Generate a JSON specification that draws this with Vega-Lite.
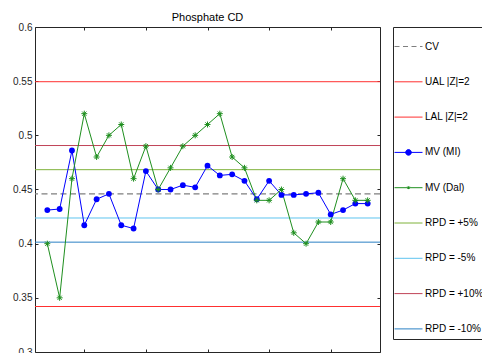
{
  "$schema": "https://vega.github.io/schema/vega-lite/v6.json",
  "autosize": {"type": "none"},
  "padding": {"left": 35, "top": 27, "right": 102, "bottom": 1},
  "width": 345,
  "height": 325,
  "background": "white",
  "title": {"text": "Phosphate CD", "fontSize": 11, "fontWeight": "normal", "font": "Liberation Sans", "color": "#000", "offset": -1, "frame": "group", "anchor": "middle"},
  "config": {
    "view": {"stroke": "#262626", "strokeWidth": 1},
    "axis": {"grid": false, "domain": false, "labelFont": "Liberation Sans", "labelFontSize": 10, "labelColor": "#262626", "tickColor": "#262626", "tickSize": -3, "labelPadding": 6, "title": null},
    "legend": {"labelFont": "Liberation Sans", "labelFontSize": 10, "labelColor": "#000"}
  },
  "datasets": {
    "mv": [
      {"x": 1, "s": "MV (MI)", "v": 0.431}, {"x": 2, "s": "MV (MI)", "v": 0.432}, {"x": 3, "s": "MV (MI)", "v": 0.486},
      {"x": 4, "s": "MV (MI)", "v": 0.417}, {"x": 5, "s": "MV (MI)", "v": 0.441}, {"x": 6, "s": "MV (MI)", "v": 0.446},
      {"x": 7, "s": "MV (MI)", "v": 0.417}, {"x": 8, "s": "MV (MI)", "v": 0.414}, {"x": 9, "s": "MV (MI)", "v": 0.467},
      {"x": 10, "s": "MV (MI)", "v": 0.450}, {"x": 11, "s": "MV (MI)", "v": 0.450}, {"x": 12, "s": "MV (MI)", "v": 0.454},
      {"x": 13, "s": "MV (MI)", "v": 0.452}, {"x": 14, "s": "MV (MI)", "v": 0.472}, {"x": 15, "s": "MV (MI)", "v": 0.463},
      {"x": 16, "s": "MV (MI)", "v": 0.464}, {"x": 17, "s": "MV (MI)", "v": 0.458}, {"x": 18, "s": "MV (MI)", "v": 0.441},
      {"x": 19, "s": "MV (MI)", "v": 0.458}, {"x": 20, "s": "MV (MI)", "v": 0.445}, {"x": 21, "s": "MV (MI)", "v": 0.445},
      {"x": 22, "s": "MV (MI)", "v": 0.446}, {"x": 23, "s": "MV (MI)", "v": 0.447}, {"x": 24, "s": "MV (MI)", "v": 0.427},
      {"x": 25, "s": "MV (MI)", "v": 0.431}, {"x": 26, "s": "MV (MI)", "v": 0.437}, {"x": 27, "s": "MV (MI)", "v": 0.437},
      {"x": 1, "s": "MV (Dal)", "v": 0.40}, {"x": 2, "s": "MV (Dal)", "v": 0.35}, {"x": 3, "s": "MV (Dal)", "v": 0.46},
      {"x": 4, "s": "MV (Dal)", "v": 0.52}, {"x": 5, "s": "MV (Dal)", "v": 0.48}, {"x": 6, "s": "MV (Dal)", "v": 0.50},
      {"x": 7, "s": "MV (Dal)", "v": 0.51}, {"x": 8, "s": "MV (Dal)", "v": 0.46}, {"x": 9, "s": "MV (Dal)", "v": 0.49},
      {"x": 10, "s": "MV (Dal)", "v": 0.45}, {"x": 11, "s": "MV (Dal)", "v": 0.47}, {"x": 12, "s": "MV (Dal)", "v": 0.49},
      {"x": 13, "s": "MV (Dal)", "v": 0.50}, {"x": 14, "s": "MV (Dal)", "v": 0.51}, {"x": 15, "s": "MV (Dal)", "v": 0.52},
      {"x": 16, "s": "MV (Dal)", "v": 0.48}, {"x": 17, "s": "MV (Dal)", "v": 0.47}, {"x": 18, "s": "MV (Dal)", "v": 0.44},
      {"x": 19, "s": "MV (Dal)", "v": 0.44}, {"x": 20, "s": "MV (Dal)", "v": 0.45}, {"x": 21, "s": "MV (Dal)", "v": 0.41},
      {"x": 22, "s": "MV (Dal)", "v": 0.40}, {"x": 23, "s": "MV (Dal)", "v": 0.42}, {"x": 24, "s": "MV (Dal)", "v": 0.42},
      {"x": 25, "s": "MV (Dal)", "v": 0.46}, {"x": 26, "s": "MV (Dal)", "v": 0.44}, {"x": 27, "s": "MV (Dal)", "v": 0.44}
    ],
    "refs": [
      {"s": "CV", "v": 0.446},
      {"s": "UAL |Z|=2", "v": 0.5495},
      {"s": "LAL |Z|=2", "v": 0.342},
      {"s": "RPD = +5%", "v": 0.4683},
      {"s": "RPD = -5%", "v": 0.4237},
      {"s": "RPD = +10%", "v": 0.4906},
      {"s": "RPD = -10%", "v": 0.4014}
    ]
  },
  "layer": [
    {
      "data": {"name": "refs"},
      "transform": [{"filter": "datum.s !== 'CV'"}],
      "mark": {"type": "rule", "strokeWidth": 1},
      "encoding": {
        "y": {"field": "v", "type": "quantitative", "axis": null},
        "color": {"field": "s", "type": "nominal"}
      }
    },
    {
      "data": {"name": "refs"},
      "transform": [{"filter": "datum.s === 'CV'"}],
      "mark": {"type": "rule", "strokeWidth": 1.3, "strokeDash": [6, 3.5]},
      "encoding": {
        "y": {"field": "v", "type": "quantitative", "axis": null},
        "color": {"field": "s", "type": "nominal"}
      }
    },
    {
      "data": {"name": "mv"},
      "mark": {"type": "line", "strokeWidth": 1},
      "encoding": {
        "x": {"field": "x", "type": "quantitative", "scale": {"domain": [0, 28], "nice": false, "zero": false}, "axis": {"orient": "bottom", "values": [4, 9, 14, 19, 24], "labels": false}},
        "y": {"field": "v", "type": "quantitative", "scale": {"domain": [0.3, 0.6], "nice": false, "zero": false}, "axis": {"orient": "left", "values": [0.3, 0.35, 0.4, 0.45, 0.5, 0.55, 0.6], "format": ".2~f"}},
        "color": {
          "field": "s", "type": "nominal",
          "scale": {
            "domain": ["CV", "UAL |Z|=2", "LAL |Z|=2", "MV (MI)", "MV (Dal)", "RPD = +5%", "RPD = -5%", "RPD = +10%", "RPD = -10%"],
            "range": ["#7f7f7f", "#ff3030", "#ff3030", "#0000ff", "#1f8f1f", "#7fb23a", "#5ec4ef", "#c04458", "#2a80c4"]
          },
          "legend": {
            "title": null,
            "orient": "right",
            "offset": 12,
            "padding": 5,
            "strokeColor": "#262626",
            "fillColor": "white",
            "symbolType": "stroke",
            "symbolSize": 784,
            "symbolStrokeWidth": 1,
            "symbolOffset": -4,
            "rowPadding": 15.3,
            "labelOffset": 2,
            "labelFontSize": 10,
            "labelLimit": 200,
            "encode": {
              "symbols": {
                "update": {
                  "shape": {"signal": "datum.value === 'MV (MI)' ? 'M-1,0H1M-0.2,0A0.2,0.2,0,1,0,0.2,0A0.2,0.2,0,1,0,-0.2,0Z' : datum.value === 'MV (Dal)' ? 'M-1,0H1M0,-0.1V0.1M-0.08,-0.08L0.08,0.08M-0.08,0.08L0.08,-0.08' : 'stroke'"},
                  "fill": {"signal": "datum.value === 'MV (MI)' ? '#0000ff' : 'transparent'"},
                  "stroke": {"scale": "color", "field": "value"},
                  "strokeDash": {"signal": "datum.value === 'CV' ? [5, 3.5] : [100, 0]"},
                  "strokeWidth": {"value": 1},
                  "opacity": {"value": 1}
                }
              }
            }
          }
        }
      }
    },
    {
      "data": {"name": "mv"},
      "transform": [{"filter": "datum.s === 'MV (MI)'"}],
      "mark": {"type": "point", "filled": true, "size": 34, "opacity": 1, "shape": "circle"},
      "encoding": {
        "x": {"field": "x", "type": "quantitative", "axis": {"orient": "top", "values": [4, 9, 14, 19, 24], "labels": false}},
        "y": {"field": "v", "type": "quantitative", "axis": {"orient": "right", "values": [0.3, 0.35, 0.4, 0.45, 0.5, 0.55, 0.6], "labels": false}},
        "color": {"field": "s", "type": "nominal"}
      }
    },
    {
      "data": {"name": "mv"},
      "transform": [{"filter": "datum.s === 'MV (Dal)'"}],
      "mark": {"type": "point", "filled": false, "size": 36, "opacity": 1, "strokeWidth": 1, "shape": "M-1,0H1M0,-1V1M-0.7,-0.7L0.7,0.7M-0.7,0.7L0.7,-0.7"},
      "encoding": {
        "x": {"field": "x", "type": "quantitative", "axis": null},
        "y": {"field": "v", "type": "quantitative", "axis": null},
        "color": {"field": "s", "type": "nominal"}
      }
    }
  ]
}
